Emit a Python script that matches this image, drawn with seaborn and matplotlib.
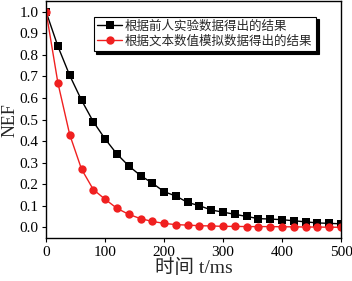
import numpy as np
import pandas as pd
import matplotlib
matplotlib.use("Agg")
import matplotlib.pyplot as plt
import seaborn as sns

t_ms = list(range(0, 501, 20))
exp_values = [1.0, 0.84, 0.705, 0.59, 0.49, 0.41, 0.34, 0.285, 0.24, 0.205,
              0.165, 0.145, 0.115, 0.10, 0.08, 0.07, 0.06, 0.05, 0.04, 0.038,
              0.035, 0.03, 0.025, 0.02, 0.018, 0.016]
sim_values = [1.0, 0.67, 0.43, 0.27, 0.175, 0.13, 0.088, 0.06, 0.04, 0.027,
              0.018, 0.012, 0.01, 0.007, 0.006, 0.004, 0.004, 0.003, 0.003, 0.003,
              0.002, 0.002, 0.001, 0.001, 0.0, 0.0]
series_names = ["根据前人实验数据得出的结果", "根据文本数值模拟数据得出的结果"]
x_ticks = [0, 100, 200, 300, 400, 500]
y_ticks = [0.0, 0.1, 0.2, 0.3, 0.4, 0.5, 0.6, 0.7, 0.8, 0.9, 1.0]

df = pd.DataFrame({
    "t": t_ms * 2,
    "NEF": exp_values + sim_values,
    "series": [series_names[0]] * len(t_ms) + [series_names[1]] * len(t_ms),
})

sns.set_style("ticks")
plt.rcParams["font.family"] = ["Liberation Serif", "Noto Sans CJK SC"]

fig = plt.figure(figsize=(3.52, 2.81), dpi=100)
ax = fig.add_axes([0.131, 0.153, 0.838, 0.843])

sns.lineplot(data=df, x="t", y="NEF", hue="series", style="series",
             palette=["black", "#f02020"], markers=["s", "o"], dashes=False,
             markersize=6, markeredgewidth=0, linewidth=1.0, ax=ax)

ax.set_xlim(0, 500)
ax.set_ylim(-0.05, 1.05)
ax.set_xticks(x_ticks)
ax.set_yticks(y_ticks)
ax.set_yticklabels([f"{v:.1f}" for v in y_ticks])
ax.tick_params(labelsize=11, length=3, width=0.8, colors="black", pad=2.5)
for s in ax.spines.values():
    s.set_visible(True)
    s.set_linewidth(1.0)
    s.set_color("black")
ax.set_xlabel("时间 t/ms", fontsize=14, labelpad=0)
ax.set_ylabel("NEF", fontsize=13, labelpad=1)

leg = ax.legend(loc="upper right", bbox_to_anchor=(0.915, 0.935), fontsize=9,
                frameon=True, fancybox=False,
                shadow={"color": "black", "alpha": 1.0},
                edgecolor="black",
                handlelength=2.0, handletextpad=0.2, borderpad=0.3,
                labelspacing=0.2, borderaxespad=0)
leg.get_frame().set_linewidth(0.8)
leg.set_title(None)

fig.savefig("out.png", dpi=100)
